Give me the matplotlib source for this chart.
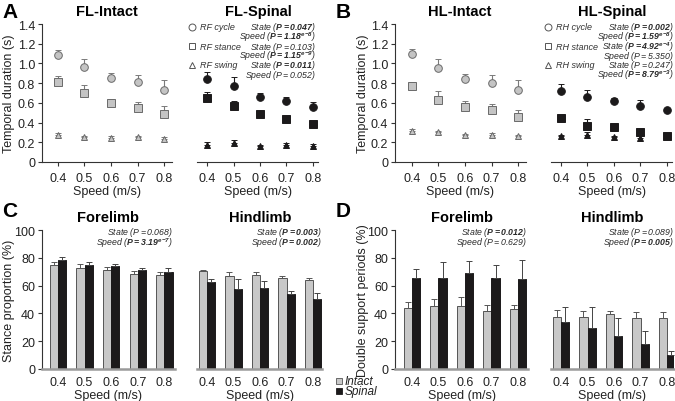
import numpy as np
import matplotlib
matplotlib.use('Agg')
import matplotlib.pyplot as plt

# Speeds (m/s)
speeds = [0.4, 0.5, 0.6, 0.7, 0.8]
speed_labels = ['0.4', '0.5', '0.6', '0.7', '0.8']

# Panel A - forelimb temporal durations (s), mean and upper SD
fl_int_cycle = [1.09, 0.96, 0.85, 0.81, 0.73]
fl_int_cycle_err = [0.05, 0.08, 0.05, 0.07, 0.10]
fl_int_stance = [0.81, 0.70, 0.60, 0.55, 0.49]
fl_int_stance_err = [0.06, 0.08, 0.04, 0.06, 0.08]
fl_int_swing = [0.27, 0.25, 0.24, 0.25, 0.23]
fl_int_swing_err = [0.02, 0.01, 0.02, 0.01, 0.02]
fl_sp_cycle = [0.84, 0.77, 0.66, 0.62, 0.56]
fl_sp_cycle_err = [0.07, 0.09, 0.04, 0.04, 0.05]
fl_sp_stance = [0.65, 0.57, 0.49, 0.44, 0.39]
fl_sp_stance_err = [0.06, 0.05, 0.02, 0.02, 0.03]
fl_sp_swing = [0.17, 0.19, 0.16, 0.17, 0.16]
fl_sp_swing_err = [0.03, 0.03, 0.01, 0.02, 0.02]

# Panel B - hindlimb temporal durations (s)
hl_int_cycle = [1.10, 0.95, 0.84, 0.80, 0.73]
hl_int_cycle_err = [0.05, 0.10, 0.05, 0.08, 0.10]
hl_int_stance = [0.77, 0.63, 0.56, 0.53, 0.46]
hl_int_stance_err = [0.04, 0.09, 0.06, 0.06, 0.07]
hl_int_swing = [0.31, 0.30, 0.27, 0.27, 0.26]
hl_int_swing_err = [0.02, 0.01, 0.01, 0.02, 0.01]
hl_sp_cycle = [0.72, 0.66, 0.62, 0.57, 0.53]
hl_sp_cycle_err = [0.07, 0.07, 0.03, 0.06, 0.02]
hl_sp_stance = [0.45, 0.37, 0.36, 0.30, 0.26]
hl_sp_stance_err = [0.00, 0.07, 0.02, 0.00, 0.01]
hl_sp_swing = [0.26, 0.27, 0.25, 0.24, 0.26]
hl_sp_swing_err = [0.01, 0.03, 0.01, 0.02, 0.01]

# Panel C - stance proportion (%)
c_fore_int = [74.8, 72.7, 71.0, 68.3, 67.4]
c_fore_int_err = [2.3, 2.8, 2.4, 2.2, 2.1]
c_fore_sp = [78.2, 74.8, 73.9, 71.5, 69.8]
c_fore_sp_err = [2.4, 1.9, 1.4, 0.9, 2.9]
c_hind_int = [70.7, 67.1, 67.4, 65.5, 63.8]
c_hind_int_err = [0.8, 2.4, 2.4, 1.6, 1.7]
c_hind_sp = [62.6, 57.3, 58.3, 54.2, 50.1]
c_hind_sp_err = [1.9, 7.2, 5.0, 1.7, 4.6]

# Panel D - double support periods (%)
d_fore_int = [43.6, 45.1, 45.1, 42.0, 43.2]
d_fore_int_err = [4.8, 5.0, 6.5, 3.8, 2.6]
d_fore_sp = [65.2, 65.2, 68.8, 65.7, 64.7]
d_fore_sp_err = [6.5, 12.0, 8.9, 9.4, 14.0]
d_hind_int = [37.2, 37.2, 39.8, 36.7, 36.5]
d_hind_int_err = [5.2, 4.8, 2.2, 4.3, 4.3]
d_hind_sp = [33.6, 29.3, 24.0, 18.0, 10.1]
d_hind_sp_err = [11.2, 15.1, 12.5, 9.6, 3.1]

W, H = 675, 402
plt.rcParams['font.family'] = ['Liberation Sans', 'DejaVu Sans']
plt.rcParams['mathtext.fontset'] = 'custom'
plt.rcParams['mathtext.rm'] = 'Liberation Sans:italic'
plt.rcParams['mathtext.it'] = 'Liberation Sans:italic'
plt.rcParams['mathtext.bf'] = 'Liberation Sans:bold:italic'

INT_FACE = '#c4c4c4'
INT_EDGE = '#6a6a6a'
SP_COL = '#1c1a1b'
AX_COL = '#333333'
TXT = '#222222'

fig = plt.figure(figsize=(W / 100, H / 100), dpi=100)


def box(l, r, t, b):
    return [l / W, 1 - b / H, (r - l) / W, (b - t) / H]


def style(ax, xlim, ylim, yticks=None, ylabels=None, bar=False):
    ax.set_xlim(*xlim)
    ax.set_ylim(*ylim)
    for s in ['top', 'right']:
        ax.spines[s].set_visible(False)
    ax.set_xticks(speeds)
    ax.set_xticklabels(speed_labels, fontsize=9, color=TXT)
    if bar:
        ax.spines['bottom'].set_color('#9a9a9a')
        ax.spines['bottom'].set_linewidth(1.8)
        ax.tick_params(axis='x', length=0, pad=5)
    else:
        ax.spines['bottom'].set_color(AX_COL)
        ax.spines['bottom'].set_linewidth(0.8)
        ax.tick_params(axis='x', length=3, width=0.8, color=AX_COL, pad=4)
    ax.set_xlabel('Speed (m/s)', fontsize=9, color=TXT, labelpad=1)
    if yticks is None:
        ax.spines['left'].set_visible(False)
        ax.set_yticks([])
    else:
        ax.spines['left'].set_color(AX_COL)
        ax.spines['left'].set_linewidth(0.8)
        ax.set_yticks(yticks)
        ax.set_yticklabels(ylabels, fontsize=9, color=TXT)
        ax.tick_params(axis='y', length=3, width=0.8, color=AX_COL, pad=2)
    ax.patch.set_alpha(0)


def ylab(ax, text, right_px, ax_left, ax_w):
    # label anchor sits on the text's right edge
    ax.set_ylabel(text, fontsize=9, color=TXT)
    ax.yaxis.set_label_coords((right_px - ax_left) / ax_w, 0.5)


def points(ax, vals, errs, marker, spinal):
    face = SP_COL if spinal else INT_FACE
    edge = SP_COL if spinal else INT_EDGE
    ecol = SP_COL if spinal else '#7a7a7a'
    ms = 5.5 if marker != '^' else 5
    ax.errorbar(speeds, vals, yerr=[np.zeros(len(errs)), errs], fmt=marker,
                ms=ms, mfc=face, mec=edge, mew=0.7, ecolor=ecol,
                elinewidth=0.8, capsize=2.5, capthick=0.8, clip_on=False)


def bars(ax, ivals, ierr, svals, serr):
    x = np.array(speeds)
    w = 0.031
    ax.bar(x - w / 2, ivals, w, color='#c8c8c8', edgecolor='#555555', linewidth=0.7,
           yerr=[np.zeros(5), ierr], error_kw=dict(ecolor='#555555', elinewidth=0.7,
                                                  capsize=2.5, capthick=0.7))
    ax.bar(x + w / 2, svals, w, color=SP_COL, edgecolor=SP_COL, linewidth=0.7,
           yerr=[np.zeros(5), serr], error_kw=dict(ecolor='#444444', elinewidth=0.7,
                                                  capsize=2.5, capthick=0.7))


dur_ticks = [0, 0.2, 0.4, 0.6, 0.8, 1.0, 1.2, 1.4]
dur_labels = ['0', '0.2', '0.4', '0.6', '0.8', '1.0', '1.2', '1.4']
pct_ticks = [0, 20, 40, 60, 80, 100]
pct_labels = ['0', '20', '40', '60', '80', '100']

# Panel A
axA1 = fig.add_axes(box(42, 172, 25, 163))
style(axA1, (0.34, 0.83), (0, 1.4), dur_ticks, dur_labels)
points(axA1, fl_int_cycle, fl_int_cycle_err, 'o', False)
points(axA1, fl_int_stance, fl_int_stance_err, 's', False)
points(axA1, fl_int_swing, fl_int_swing_err, '^', False)
ylab(axA1, 'Temporal duration (s)', 15, 42, 130)
axA2 = fig.add_axes(box(197, 318, 25, 163))
style(axA2, (0.362, 0.819), (0, 1.4))
points(axA2, fl_sp_cycle, fl_sp_cycle_err, 'o', True)
points(axA2, fl_sp_stance, fl_sp_stance_err, 's', True)
points(axA2, fl_sp_swing, fl_sp_swing_err, '^', True)

# Panel B
axB1 = fig.add_axes(box(395, 526, 25, 163))
style(axB1, (0.336, 0.83), (0, 1.4), dur_ticks, dur_labels)
points(axB1, hl_int_cycle, hl_int_cycle_err, 'o', False)
points(axB1, hl_int_stance, hl_int_stance_err, 's', False)
points(axB1, hl_int_swing, hl_int_swing_err, '^', False)
ylab(axB1, 'Temporal duration (s)', 369, 395, 131)
axB2 = fig.add_axes(box(551, 672, 25, 163))
style(axB2, (0.362, 0.82), (0, 1.4))
points(axB2, hl_sp_cycle, hl_sp_cycle_err, 'o', True)
points(axB2, hl_sp_stance, hl_sp_stance_err, 's', True)
points(axB2, hl_sp_swing, hl_sp_swing_err, '^', True)

# Panel C
axC1 = fig.add_axes(box(42, 175, 231, 370))
style(axC1, (0.34, 0.84), (0, 100), pct_ticks, pct_labels, bar=True)
bars(axC1, c_fore_int, c_fore_int_err, c_fore_sp, c_fore_sp_err)
ylab(axC1, 'Stance proportion (%)', 15, 42, 133)
axC2 = fig.add_axes(box(197, 322, 231, 370))
style(axC2, (0.362, 0.834), (0, 100), bar=True)
bars(axC2, c_hind_int, c_hind_int_err, c_hind_sp, c_hind_sp_err)

# Panel D
axD1 = fig.add_axes(box(395, 528, 231, 370))
style(axD1, (0.336, 0.838), (0, 100), pct_ticks, pct_labels, bar=True)
bars(axD1, d_fore_int, d_fore_int_err, d_fore_sp, d_fore_sp_err)
ylab(axD1, 'Double support periods (%)', 369, 395, 133)
axD2 = fig.add_axes(box(551, 674, 231, 370))
style(axD2, (0.362, 0.826), (0, 100), bar=True)
bars(axD2, d_hind_int, d_hind_int_err, d_hind_sp, d_hind_sp_err)

# Overlay in pixel coordinates for titles, letters and annotations
ov = fig.add_axes([0, 0, 1, 1], zorder=10)
ov.set_xlim(0, W)
ov.set_ylim(H, 0)
ov.axis('off')

for lx, ly, letter in [(2, 12, 'A'), (336, 12, 'B'), (2, 212, 'C'), (336, 212, 'D')]:
    ov.text(lx, ly, letter, fontsize=15, fontweight='bold', ha='left', va='center')

titles = [(107, 12, 'FL-Intact'), (258, 12, 'FL-Spinal'), (460, 12, 'HL-Intact'),
          (612, 12, 'HL-Spinal'), (108, 218, 'Forelimb'), (260, 218, 'Hindlimb'),
          (462, 218, 'Forelimb'), (612, 218, 'Hindlimb')]
for tx, ty, t in titles:
    ov.text(tx, ty, t, fontsize=10.5, fontweight='bold', ha='center', va='center')


def stat(x, y, s):
    ov.text(x, y, s, fontsize=6.3, ha='right', va='center', color='#2a2a2a')


# A/B stats
statsA = [r'$\mathrm{State\ (}\mathbf{P=0.047}\mathrm{)}$',
          r'$\mathrm{Speed\ (}\mathbf{P=1.18}^{\mathbf{e{-}8}}\mathrm{)}$',
          r'$\mathrm{State\ (P=0.103)}$',
          r'$\mathrm{Speed\ (}\mathbf{P=1.15}^{\mathbf{e{-}9}}\mathrm{)}$',
          r'$\mathrm{State\ (}\mathbf{P=0.011}\mathrm{)}$',
          r'$\mathrm{Speed\ (P=0.052)}$']
statsB = [r'$\mathrm{State\ (}\mathbf{P=0.002}\mathrm{)}$',
          r'$\mathrm{Speed\ (}\mathbf{P=1.59}^{\mathbf{e{-}8}}\mathrm{)}$',
          r'$\mathrm{State\ (}\mathbf{P=4.92}^{\mathbf{e{-}4}}\mathrm{)}$',
          r'$\mathrm{Speed\ (P=5.350)}$',
          r'$\mathrm{State\ (P=0.247)}$',
          r'$\mathrm{Speed\ (}\mathbf{P=8.79}^{\mathbf{e{-}3}}\mathrm{)}$']
rows = [28, 37.5, 47, 56.5, 66, 75.5]
for y, s in zip(rows, statsA):
    stat(316, y, s)
for y, s in zip(rows, statsB):
    stat(674, y, s)

for (mx, lx, names) in [(192, 200, ['RF cycle', 'RF stance', 'RF swing']),
                        (548, 556, ['RH cycle', 'RH stance', 'RH swing'])]:
    for y, m, n in zip([28, 47, 66], ['o', 's', '^'], names):
        ov.plot([mx], [y], marker=m, ms=5, mfc='none', mec='#555555', mew=0.7)
        ov.text(lx, y, n, fontsize=6.5, style='italic', ha='left', va='center',
                color='#333333')

stat(173, 233, r'$\mathrm{State\ (P=0.068)}$')
stat(173, 243, r'$\mathrm{Speed\ (}\mathbf{P=3.19}^{\mathbf{e{-}7}}\mathrm{)}$')
stat(322, 233, r'$\mathrm{State\ (}\mathbf{P=0.003}\mathrm{)}$')
stat(322, 243, r'$\mathrm{Speed\ (}\mathbf{P=0.002}\mathrm{)}$')
stat(527, 233, r'$\mathrm{State\ (}\mathbf{P=0.012}\mathrm{)}$')
stat(527, 243, r'$\mathrm{Speed\ (P=0.629)}$')
stat(674, 233, r'$\mathrm{State\ (P=0.089)}$')
stat(674, 243, r'$\mathrm{Speed\ (}\mathbf{P=0.005}\mathrm{)}$')

# bar legend
ov.plot([339], [382], marker='s', ms=5, mfc='#c8c8c8', mec='#555555', mew=0.6)
ov.plot([339], [392], marker='s', ms=5, mfc=SP_COL, mec=SP_COL, mew=0.6)
ov.text(345, 382, 'Intact', fontsize=8.5, style='italic', ha='left', va='center', color=TXT)
ov.text(345, 392, 'Spinal', fontsize=8.5, style='italic', ha='left', va='center', color=TXT)

fig.savefig('out.png', dpi=100)
